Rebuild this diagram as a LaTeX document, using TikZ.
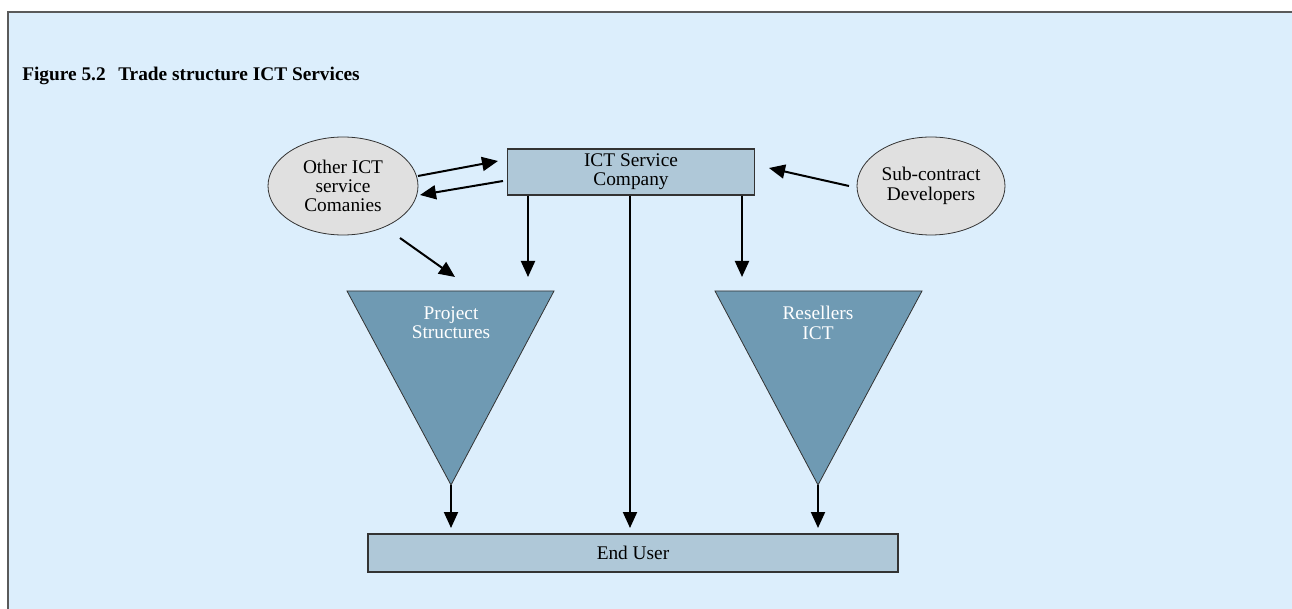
\documentclass[tikz,border=0pt]{standalone}
\usepackage{fontspec}
\setmainfont{Liberation Serif}
\usetikzlibrary{arrows.meta,shapes.geometric}

\definecolor{panelbg}{HTML}{DCEEFC}
\definecolor{panelrule}{HTML}{5A5A5A}
\definecolor{boxfill}{HTML}{AFC8D8}
\definecolor{funnelfill}{HTML}{6F9AB3}
\definecolor{ovalfill}{HTML}{E0E0E0}

\tikzset{
  flow/.style={line width=1.5pt, -{Triangle[length=12pt,width=10.5pt]}},
  bar/.style={draw=black!80, line width=0.8pt, fill=boxfill, font=\fontsize{14.5}{14.5}\selectfont, align=center, inner sep=0pt},
  oval/.style={draw=black!80, line width=0.6pt, fill=ovalfill, ellipse, font=\fontsize{14.5}{14.5}\selectfont, align=center, inner sep=0pt},
  funnel/.style={draw=black!80, line width=0.6pt, fill=funnelfill},
  funnellabel/.style={text=white, font=\fontsize{14.5}{14.5}\selectfont, align=center},
  heading/.style={font=\bfseries\fontsize{14.5}{14.5}\selectfont, anchor=base west, inner sep=0pt}
}

\begin{document}
\begin{tikzpicture}[x=0.75pt, y=-0.75pt]
\useasboundingbox (0,0) rectangle (1292,609);

% panel
\fill[panelbg] (8,12) rectangle (1292,609);
\draw[panelrule, line width=1.2pt] (8,609) -- (8,12) -- (1292,12);

% heading
\node[heading] (fig) at (22,81) {Figure 5.2};
\node[heading] (ttl) at (118,81) {Trade structure ICT Services};

% main boxes
\node[bar, minimum width=247*0.75pt, minimum height=46*0.75pt] (ict) at (631,172) {ICT Service\\Company};
\node[bar, minimum width=530*0.75pt, minimum height=38*0.75pt] (end) at (633,553) {End User};

% ovals
\node[oval, minimum width=150*0.75pt, minimum height=98*0.75pt] (other) at (343,186) {Other ICT\\service\\Comanies};
\node[oval, minimum width=148*0.75pt, minimum height=98*0.75pt] (sub) at (931,186) {Sub-contract\\Developers};

% funnels
\coordinate (pl) at (347,291);
\coordinate (pr) at (554,291);
\coordinate (pa) at (451,485);
\draw[funnel] (pl) -- (pr) -- (pa) -- cycle;
\node[funnellabel] (proj) at (451,323) {Project\\Structures};

\coordinate (rl) at (715,291);
\coordinate (rr) at (922,291);
\coordinate (ra) at (818,485);
\draw[funnel] (rl) -- (rr) -- (ra) -- cycle;
\node[funnellabel] (res) at (818,323) {Resellers\\ICT};

% connectors
\coordinate (o1) at (418,176);
\coordinate (i1) at (498,161);
\draw[flow] (o1) -- (i1);
\coordinate (i2) at (503,181);
\coordinate (o2) at (420,195);
\draw[flow] (i2) -- (o2);
\coordinate (s1) at (849,186);
\coordinate (i3) at (769,168);
\draw[flow] (s1) -- (i3);
\coordinate (o3) at (400,238);
\coordinate (p1) at (455,277);
\draw[flow] (o3) -- (p1);

\coordinate (d1) at (528,277);
\coordinate (d2) at (742,277);
\coordinate (d3) at (630,528);
\coordinate (d4) at (451,528);
\coordinate (d5) at (818,528);
\draw[flow] (ict.south -| d1) -- (d1);
\draw[flow] (ict.south -| d2) -- (d2);
\draw[flow] (ict.south -| d3) -- (d3);
\draw[flow] (pa) -- (d4);
\draw[flow] (ra) -- (d5);
\end{tikzpicture}
\end{document}
